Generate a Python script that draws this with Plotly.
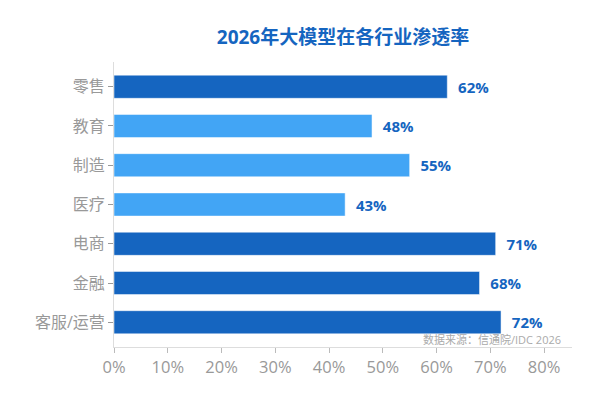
import plotly.graph_objects as go

categories = ["零售", "教育", "制造", "医疗", "电商", "金融", "客服/运营"]
values = [62, 48, 55, 43, 71, 68, 72]
x_ticks = [0, 10, 20, 30, 40, 50, 60, 70, 80]
x_tick_labels = ["0%", "10%", "20%", "30%", "40%", "50%", "60%", "70%", "80%"]

DARK = "#1565c0"
LIGHT = "#42a5f5"
colors = [DARK if v >= 60 else LIGHT for v in values]
FONT = "Open Sans, Noto Sans CJK SC"

# page body has an 8px margin, so the figure is sized to fill the window
W, H = 592, 392

fig = go.Figure(go.Bar(
    y=categories,
    x=values,
    orientation="h",
    marker=dict(color=colors, line=dict(color="white", width=0.5)),
    text=[f"{v}%" for v in values],
    texttemplate="  %{text}",
    textposition="outside",
    textfont=dict(family=FONT, size=15, color=DARK, weight="bold"),
    cliponaxis=False,
    width=0.59,
    hoverinfo="skip",
))

fig.update_layout(
    width=W, height=H,
    margin=dict(l=106, r=28, t=54, b=53),
    paper_bgcolor="white",
    plot_bgcolor="white",
    showlegend=False,
    title=dict(
        text="<b>2026年大模型在各行业渗透率</b>",
        x=0.5, xref="paper", xanchor="center",
        y=1 - 29 / H, yref="container", yanchor="middle",
        font=dict(family=FONT, size=19, color=DARK),
    ),
    font=dict(family=FONT),
    xaxis=dict(
        range=[0, 85.2],
        tickvals=x_ticks,
        ticktext=x_tick_labels,
        showgrid=False,
        zeroline=False,
        showline=True,
        linecolor="#dddddd",
        linewidth=1,
        ticks="outside",
        ticklen=5,
        tickcolor="#bbbbbb",
        tickfont=dict(family=FONT, size=16.5, color="#999999"),
    ),
    yaxis=dict(
        categoryorder="array",
        categoryarray=categories[::-1],
        range=[-0.63, 6.63],
        showgrid=False,
        zeroline=False,
        showline=True,
        linecolor="#dddddd",
        linewidth=1,
        ticks="outside",
        ticklen=5,
        tickcolor="#999999",
        tickfont=dict(family=FONT, size=16, color="#999999"),
    ),
    annotations=[dict(
        text="数据来源：信通院/IDC 2026",
        xref="paper", yref="paper",
        x=0.978, y=0.026,
        xanchor="right", yanchor="middle",
        showarrow=False,
        borderpad=0,
        font=dict(family=FONT, size=11, color="#aaaaaa"),
    )],
)

fig.write_html("out.html")
